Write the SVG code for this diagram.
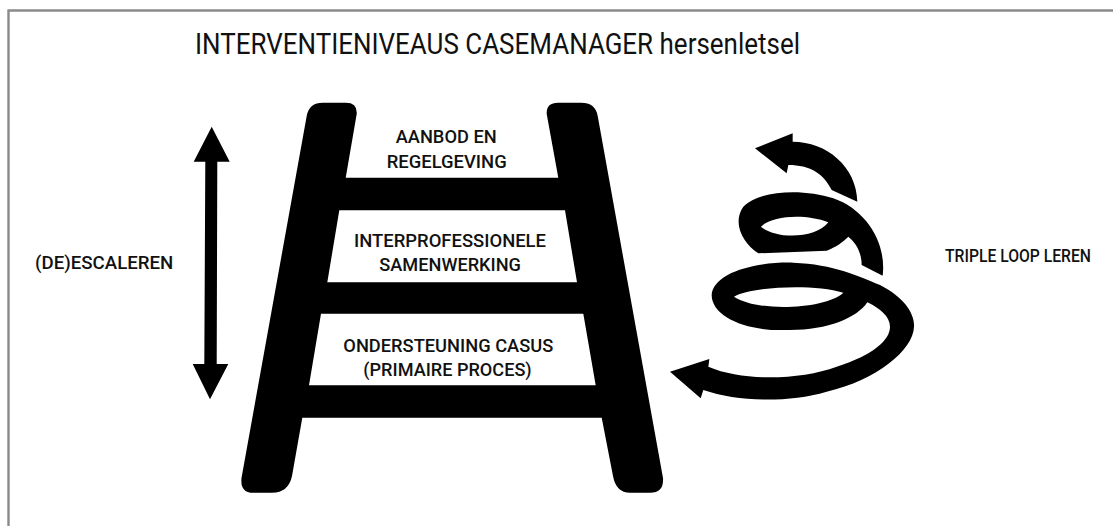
<svg xmlns="http://www.w3.org/2000/svg" width="1113" height="526" viewBox="0 0 1113 526">
<style>
text{font-family:"Roboto","Liberation Sans",sans-serif;fill:#111}
.t{font-size:17.5px;font-weight:500}
.title{font-size:29.5px}
.s{fill:#000;fill-rule:evenodd}
</style>
<rect width="1113" height="526" fill="#fff"/>
<path d="M8.500 526V10.500H1113" fill="none" stroke="#8a8a8a" stroke-width="2.400"/>
<g id="title"><text class="title" x="195" y="54" textLength="605" lengthAdjust="spacingAndGlyphs">INTERVENTIENIVEAUS CASEMANAGER hersenletsel</text></g>
<g id="ladder">
<path class="s" d="M323 102.700H346Q357.500 102.700 356.700 114L345.700 177.700H558.300L546.700 114Q546 102.700 558 102.700H581Q595.500 102.700 597.700 116L663 478Q664 492.700 650 492.700H630Q616 492.700 613 476L601.700 417.700H302.300L292 476Q288.500 492.700 272 492.700H253Q240 492.700 241.500 478L306.700 116Q309 102.700 323 102.700Z
M339.300 210.300H565L577 282.300H327.300Z
M321 313.700H583.300L595.700 385.300H309Z"/>
<text class="t" x="395.700" y="143.300" textLength="101" lengthAdjust="spacingAndGlyphs">AANBOD EN</text>
<text class="t" x="386.700" y="167.700" textLength="120" lengthAdjust="spacingAndGlyphs">REGELGEVING</text>
<text class="t" x="354" y="246.700" textLength="192" lengthAdjust="spacingAndGlyphs">INTERPROFESSIONELE</text>
<text class="t" x="379.300" y="271" textLength="141.700" lengthAdjust="spacingAndGlyphs">SAMENWERKING</text>
<text class="t" x="343.300" y="351.700" textLength="210" lengthAdjust="spacingAndGlyphs">ONDERSTEUNING CASUS</text>
<text class="t" x="363.300" y="375.700" textLength="168.400" lengthAdjust="spacingAndGlyphs">(PRIMAIRE PROCES)</text>
</g>
<g id="escalate">
<path class="s" d="M211.700 126.700L229.700 161.700H217.300L216.700 364H228.300L210 399.300L192.700 364H204.300L205.300 161.700H193.700Z"/>
<text class="t" x="35" y="269.300" textLength="138.300" lengthAdjust="spacingAndGlyphs">(DE)ESCALEREN</text>
</g>
<g id="triple-loop">
<g transform="translate(660 110) scale(.33333)">
<path class="s" d="M285 115L398 70V95C500 95 590 170 592 275L515 240C490 190 450 165 385 165L380 190Z"/>
<path class="s" d="M668 497C680 400 620 300 520 265C430 235 300 240 250 290C215 340 250 400 295 430L500 422C530 410 550 395 565 380C590 400 605 430 605 465Z M303 350C340 315 440 312 505 337C470 385 350 390 303 350Z"/>
<path class="s" d="M30 785L148 747L145 770C250 815 420 810 530 770C640 735 690 690 690 650C690 620 660 595 622 577C590 625 500 662 380 660C260 665 155 620 155 555C160 490 280 455 400 458C520 462 600 500 660 525C730 560 765 610 762 650C760 720 650 810 500 845C380 880 230 875 130 840L122 865Z M222 560C270 530 460 520 550 548C500 595 300 610 222 560Z"/>
</g>
<text class="t" x="945" y="261.500" textLength="146" lengthAdjust="spacingAndGlyphs">TRIPLE LOOP LEREN</text>
</g>
</svg>
